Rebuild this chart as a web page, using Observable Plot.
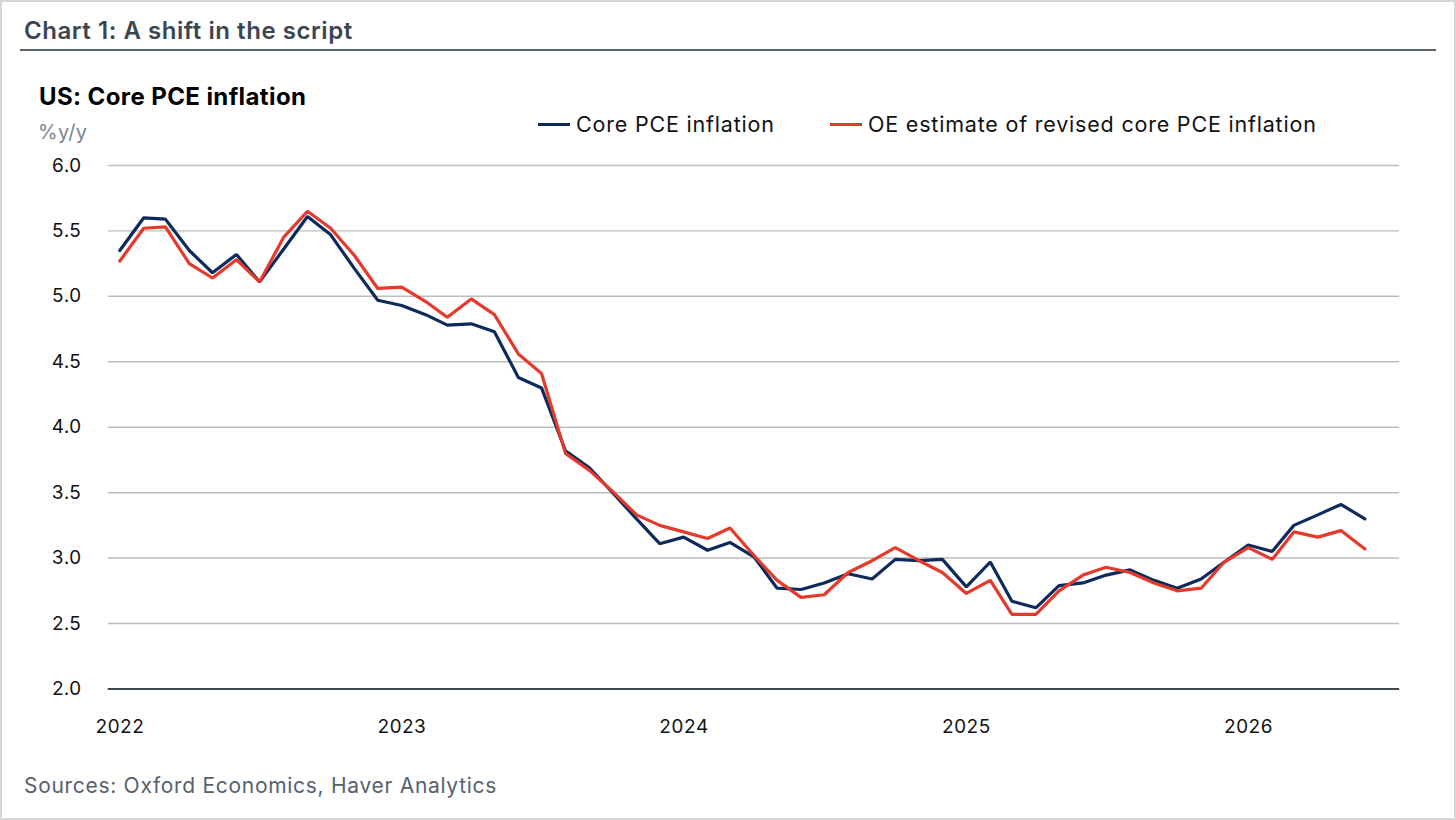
<!DOCTYPE html>
<html>
<head>
<meta charset="utf-8">
<script src="https://cdn.jsdelivr.net/npm/d3@7"></script>
<script src="https://cdn.jsdelivr.net/npm/@observablehq/plot@0.6"></script>
<style>
  html, body { margin: 0; padding: 0; background: #fff; }
  #frame { position: relative; width: 1456px; height: 820px; box-sizing: border-box; border: 2px solid #d6d6d6; background: #fff; font-family: Inter, "Noto Sans", sans-serif; overflow: hidden; }
  .abs { position: absolute; white-space: nowrap; line-height: 1.2; }
  #title { left: 22px; top: 15px; font-size: 24px; font-weight: 600; color: #3b4650; letter-spacing: 0.55px; }
  #rule { left: 18px; top: 47px; width: 1416px; height: 2px; background: #5c6770; }
  #subtitle { left: 37px; top: 81px; font-size: 24px; font-weight: 700; color: #000; letter-spacing: 0.4px; }
  #unit { left: 36px; top: 118px; font-size: 20px; color: #7b8791; letter-spacing: 0.3px; }
  .item { position: absolute; top: 109px; font-size: 21.5px; color: #111; letter-spacing: 0.8px; display: flex; align-items: center; }
  .swatch { width: 32px; height: 3px; margin-right: 6px; }
  #source { left: 22px; top: 771px; font-size: 21px; color: #56616b; letter-spacing: 0.7px; }
  #chart { left: 0px; top: 139px; }
</style>
</head>
<body>
<div id="frame">
  <div class="abs" id="title">Chart 1: A shift in the script</div>
  <div class="abs" id="rule"></div>
  <div class="abs" id="subtitle">US: Core PCE inflation</div>
  <div class="abs" id="unit">%y/y</div>
  <div class="abs" id="chart"></div>
  <div class="abs" id="source">Sources: Oxford Economics, Haver Analytics</div>
</div>
<script>
const months = [
  "2022-01","2022-02","2022-03","2022-04","2022-05","2022-06","2022-07","2022-08","2022-09","2022-10","2022-11","2022-12",
  "2023-01","2023-02","2023-03","2023-04","2023-05","2023-06","2023-07","2023-08","2023-09","2023-10","2023-11","2023-12",
  "2024-01","2024-02","2024-03","2024-04","2024-05","2024-06","2024-07","2024-08","2024-09","2024-10","2024-11","2024-12",
  "2025-01","2025-02","2025-03","2025-04","2025-05","2025-06","2025-07","2025-08","2025-09","2025-10","2025-11","2025-12",
  "2026-01","2026-02","2026-03","2026-04","2026-05","2026-06"
];
const corePCE = [5.35,5.60,5.59,5.35,5.18,5.32,5.11,5.36,5.61,5.47,5.21,4.97,
  4.93,4.86,4.78,4.79,4.73,4.38,4.30,3.82,3.69,3.50,3.30,3.11,
  3.16,3.06,3.12,3.01,2.77,2.76,2.81,2.88,2.84,2.99,2.98,2.99,
  2.78,2.97,2.67,2.62,2.79,2.81,2.87,2.91,2.83,2.77,2.84,2.97,
  3.10,3.05,3.25,3.33,3.41,3.30];
const revisedPCE = [5.27,5.52,5.53,5.25,5.14,5.28,5.11,5.45,5.65,5.52,5.31,5.06,
  5.07,4.96,4.84,4.98,4.86,4.56,4.41,3.80,3.67,3.51,3.33,3.25,
  3.20,3.15,3.23,3.02,2.83,2.70,2.72,2.89,2.98,3.08,2.98,2.89,
  2.73,2.83,2.57,2.57,2.75,2.87,2.93,2.89,2.81,2.75,2.77,2.97,
  3.08,2.99,3.20,3.16,3.21,3.07];
const seriesNames = ["Core PCE inflation", "OE estimate of revised core PCE inflation"];
const seriesColors = ["#0c2a5c", "#e5392b"];
const legendLeft = [536, 828];
const yTicks = [2.0, 2.5, 3.0, 3.5, 4.0, 4.5, 5.0, 5.5, 6.0];
const yearTicks = ["2022-01-01", "2023-01-01", "2024-01-01", "2025-01-01", "2026-01-01"];
const xDomain = ["2021-12-17", "2026-07-16"];

const parse = d3.utcParse("%Y-%m");
const rows = [];
months.forEach((m, i) => {
  rows.push({date: parse(m), value: corePCE[i], series: seriesNames[0]});
});
months.forEach((m, i) => {
  rows.push({date: parse(m), value: revisedPCE[i], series: seriesNames[1]});
});

const frame = document.getElementById("frame");
seriesNames.forEach((name, i) => {
  const item = document.createElement("div");
  item.className = "item";
  item.style.left = legendLeft[i] + "px";
  const sw = document.createElement("div");
  sw.className = "swatch";
  sw.style.background = seriesColors[i];
  const label = document.createElement("span");
  label.textContent = name;
  item.appendChild(sw);
  item.appendChild(label);
  frame.appendChild(item);
});

const chart = Plot.plot({
  width: 1456,
  height: 620,
  marginLeft: 106,
  marginRight: 55,
  marginTop: 24,
  marginBottom: 71,
  style: {fontFamily: "Inter, 'Noto Sans', sans-serif", fontSize: "18px", color: "#111", background: "transparent", overflow: "visible"},
  x: {type: "utc", domain: xDomain.map(d => new Date(d))},
  y: {domain: [2, 6]},
  color: {domain: seriesNames, range: seriesColors},
  marks: [
    Plot.gridY(yTicks.filter(d => d > 2), {stroke: "#bdbdbd", strokeOpacity: 1, strokeWidth: 1.5}),
    Plot.axisY(yTicks, {tickSize: 0, tickPadding: 27, label: null, tickFormat: d => d.toFixed(1), fontSize: 19, fill: "#111"}),
    Plot.axisX(yearTicks.map(d => new Date(d)), {tickSize: 0, tickPadding: 31, label: null, tickFormat: d3.utcFormat("%Y"), fontSize: 19, fill: "#111"}),
    Plot.ruleY([2], {stroke: "#3e4b55", strokeWidth: 2}),
    Plot.line(rows, {x: "date", y: "value", stroke: "series", z: "series", strokeWidth: 3.2, strokeLinejoin: "miter"})
  ]
});
document.getElementById("chart").appendChild(chart);
</script>
</body>
</html>
